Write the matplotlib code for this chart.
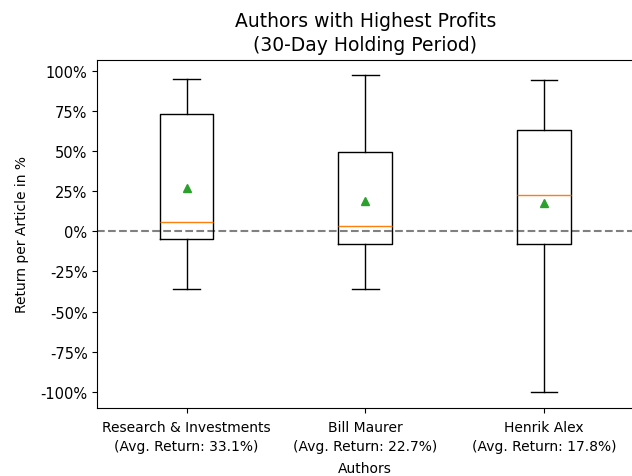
import matplotlib
matplotlib.use("Agg")
import matplotlib.pyplot as plt
from matplotlib.ticker import PercentFormatter, MultipleLocator

plt.rcParams["axes.unicode_minus"] = False

# values (in %)
authors = ["Research & Investments", "Bill Maurer", "Henrik Alex"]
avg_returns = [33.1, 22.7, 17.8]
whisker_low = [-36, -36, -100]
q1 = [-4.5, -8, -8]
medians = [6, 3.5, 22.5]
q3 = [73, 49.5, 63]
whisker_high = [95, 97, 94]
means = [27, 19, 17.5]

stats = []
for i in range(len(authors)):
    stats.append(dict(whislo=whisker_low[i], q1=q1[i], med=medians[i],
                      q3=q3[i], whishi=whisker_high[i], mean=means[i],
                      fliers=[]))

fig = plt.figure(figsize=(6.32, 4.77), dpi=100)
# right spine falls just outside the picture, like the reference
ax = fig.add_axes([0.154, 0.143, 0.848, 0.730])

ax.bxp(stats, showmeans=True, widths=0.3)
ax.axhline(0, color="gray", linestyle="--", linewidth=1.5, zorder=0)

ax.set_xticks([1, 2, 3])
ax.set_xticklabels(["%s\n(Avg. Return: %.1f%%)" % (a, r)
                    for a, r in zip(authors, avg_returns)],
                   fontsize=10, linespacing=1.45)
ax.yaxis.set_major_locator(MultipleLocator(25))
ax.yaxis.set_major_formatter(PercentFormatter(decimals=0))
ax.tick_params(axis="y", labelsize=10.5)
ax.tick_params(axis="x", pad=5)

ax.set_xlabel("Authors", fontsize=10, labelpad=6)
ax.set_ylabel("Return per Article in %", fontsize=10, labelpad=8)
ax.set_title("Authors with Highest Profits\n(30-Day Holding Period)",
             fontsize=13.5, linespacing=1.3, pad=7)

fig.savefig("out.png", dpi=100)
